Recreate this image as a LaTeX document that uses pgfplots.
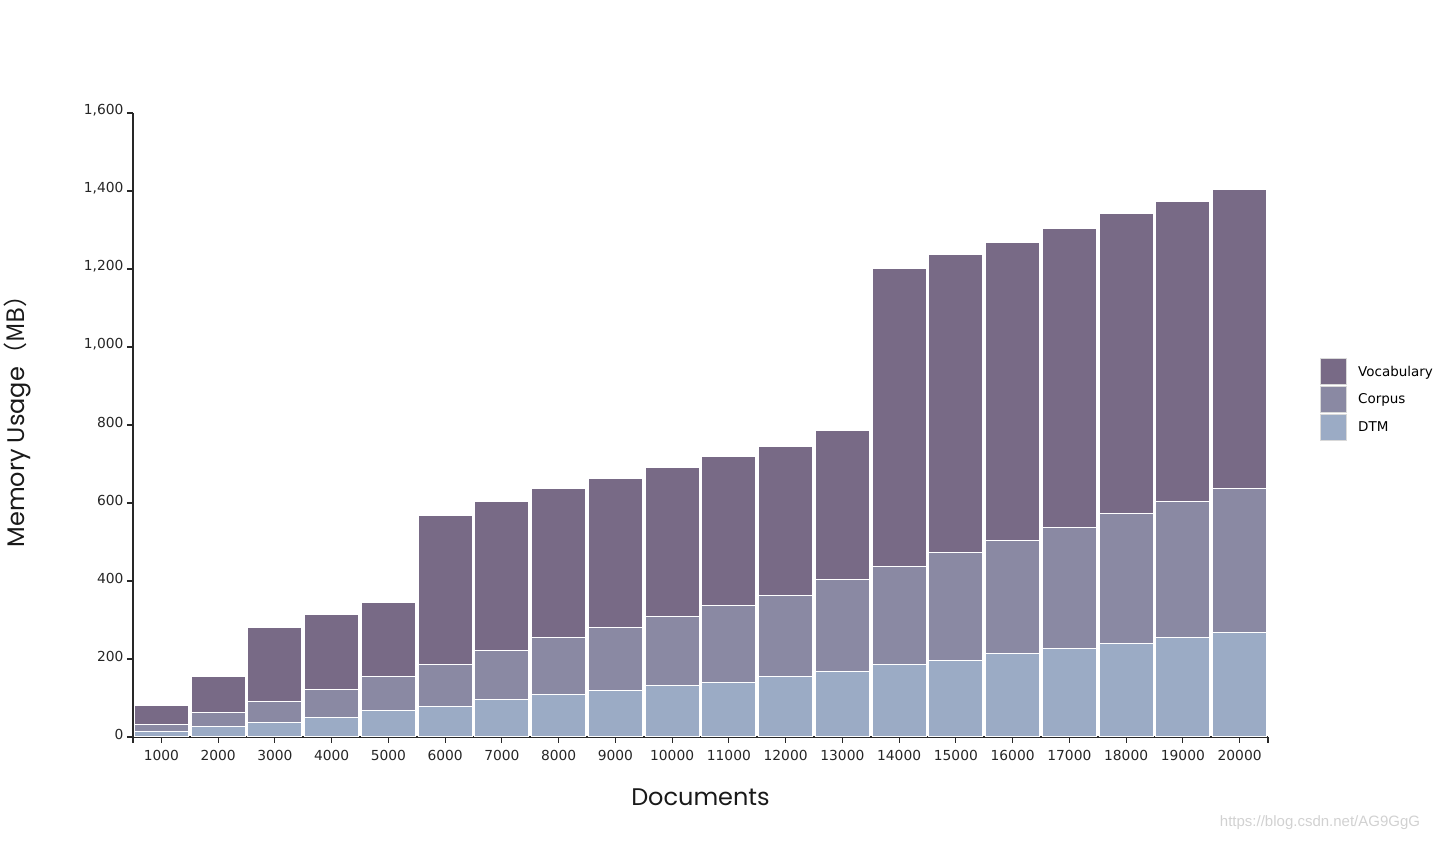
\documentclass[border=0pt]{standalone}
\usepackage{pgfplots}
\pgfplotsset{compat=1.18}
\usepackage{pgfplotstable}
\usepackage{fontspec}
\setmainfont{DejaVu Sans}
\newfontfamily\poppins{Poppins}
\newfontfamily\cjk{Noto Sans CJK SC}
\newfontfamily\lib{Liberation Sans}
\definecolor{vocab}{RGB}{120,106,134}
\definecolor{corpus}{RGB}{138,137,163}
\definecolor{dtm}{RGB}{155,171,197}
\definecolor{axc}{RGB}{40,40,40}
\pgfplotstableread{
doc dtm corpus vocab
1000 15 18 47
2000 28 34 94
3000 38 52 192
4000 51 72 190
5000 67 87 192
6000 79 108 382
7000 95 126 384
8000 108 146 382
9000 118 164 382
10000 131 177 382
11000 141 195 382
12000 154 210 382
13000 169 234 384
14000 185 251 764
15000 197 275 764
16000 213 290 766
17000 228 310 767
18000 241 333 767
19000 256 349 767
20000 269 369 767
}\datatable
\begin{document}
\begin{tikzpicture}
\path[use as bounding box] (0,0) rectangle (1434pt,842pt);
\begin{axis}[
  at={(133pt,105pt)}, anchor=south west,
  scale only axis, width=1135pt, height=624pt,
  ybar stacked, bar width=54pt,
  enlargelimits=false,
  xmin=500, xmax=20500, ymin=0, ymax=1600,
  axis x line=bottom, axis y line=left,
  axis line style={-, axc, line width=1.2pt},
  tick style={axc, line width=1.2pt},
  tick align=outside, major tick length=6pt,
  xtick={1000,2000,...,20000},
  xticklabels={1000,2000,3000,4000,5000,6000,7000,8000,9000,10000,11000,12000,13000,14000,15000,16000,17000,18000,19000,20000},
  scaled x ticks=false,
  extra x ticks={500,20500}, extra x tick labels={},
  extra x tick style={tick style={axc, line width=1.2pt}},
  ytick={0,200,...,1600},
  scaled y ticks=false,
  /pgf/number format/.cd, 1000 sep={,}, assume math mode=true, /pgfplots/.cd,
  ticklabel style={font=\fontsize{13.8}{16}\selectfont, text=black!85},
  yticklabel style={yshift=3pt},
  xticklabel style={yshift=-4pt},
  xlabel={\poppins Documents},
  ylabel={\poppins Memory Usage\cjk{（}MB\cjk{）}},
  xlabel style={at={(axis description cs:0.5,-0.096)}, anchor=center, font=\fontsize{24}{27}\selectfont, text=black!90},
  ylabel style={at={(axis description cs:-0.1022,0.515)}, anchor=center, font=\fontsize{24}{27}\selectfont, text=black!90},
  legend style={at={(1.0431,0.6106)}, anchor=north west, draw=none, fill=none,
    font=\fontsize{13.5}{16}\selectfont, row sep=1pt,
    nodes={inner sep=0pt, outer sep=0pt}},
  legend cell align=left,
  reverse legend,
  legend image code/.code={\fill[#1, draw=white!85!black] (0pt,-13pt) rectangle (26pt,13pt); \path (37pt,0pt);},
]
\addplot[fill=dtm, draw=white, line width=1pt] table[x=doc, y=dtm] {\datatable};
\addplot[fill=corpus, draw=white, line width=1pt] table[x=doc, y=corpus] {\datatable};
\addplot[fill=vocab, draw=white, line width=1pt] table[x=doc, y=vocab] {\datatable};
\legend{DTM, Corpus, Vocabulary}
\end{axis}
\node[text=black!18, font=\lib\fontsize{15}{18}\selectfont] at (1320pt,19pt) {https://blog.csdn.net/AG9GgG};
\end{tikzpicture}
\end{document}
